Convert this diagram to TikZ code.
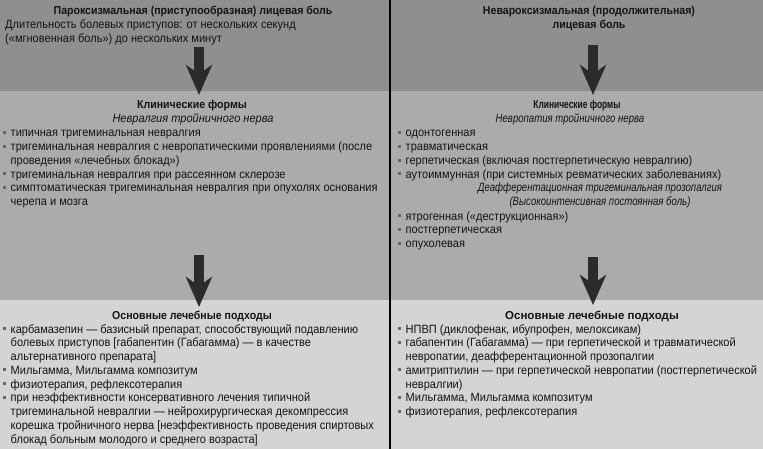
\documentclass[tikz,border=0pt]{standalone}
\usepackage{fontspec}
\setmainfont[FakeStretch=0.92]{Liberation Sans}
\newfontfamily\narrowA[FakeStretch=0.73]{Liberation Sans}
\newfontfamily\narrowB[FakeStretch=0.80]{Liberation Sans}
\newfontfamily\wideA[FakeStretch=1.0]{Liberation Sans}
\usetikzlibrary{arrows.meta,positioning}
\definecolor{bandA}{gray}{0.56}
\definecolor{bandB}{gray}{0.67}
\definecolor{bandC}{gray}{0.83}
\definecolor{ink}{gray}{0.08}
\definecolor{arrowgray}{gray}{0.17}
\newcommand{\bul}{\makebox[7.5pt][l]{\textcolor{ink!65}{\rule[2.8pt]{3pt}{3pt}}}}
\newcommand{\cont}{\hspace*{7.5pt}}

\begin{document}
\begin{tikzpicture}[x=1pt,y=-1pt,>=Stealth,
  band/.style={draw=none,inner sep=0,outer sep=0,anchor=north west,minimum width=763pt},
  txt/.style={anchor=base west,align=left,inner sep=0,font=\fontsize{12}{13.75}\selectfont,text=ink},
  head/.style={anchor=base,inner sep=0,font=\bfseries\fontsize{11.5}{14}\selectfont,text=ink},
  sub/.style={anchor=base,inner sep=0,font=\itshape\fontsize{12}{13.75}\selectfont,text=ink},
  flow/.style={-{Stealth[length=30pt,width=26pt,inset=9pt]},line width=10pt,draw=arrowgray}]
  \useasboundingbox (0,0) rectangle (763,449);
  % bands
  \node[band,fill=bandA,minimum height=91pt] (bandTop) at (0,0) {};
  \node[band,fill=bandB,minimum height=209pt] (bandMid) at (0,91) {};
  \node[band,fill=bandC,minimum height=149pt] (bandBot) at (0,300) {};
  \coordinate (divT) at (390,0);
  \coordinate (divB) at (390,449);
  \draw[line width=1.6pt,black] (divT) -- (divB);

  % arrows
  \coordinate (aL1) at (199,47);  \coordinate (bL1) at (199,95);
  \coordinate (aR1) at (593,45);  \coordinate (bR1) at (593,95);
  \coordinate (aL2) at (199,255); \coordinate (bL2) at (199,307);
  \coordinate (aR2) at (593,257); \coordinate (bR2) at (593,305);
  \draw[flow] (aL1) -- (bL1);
  \draw[flow] (aR1) -- (bR1);
  \draw[flow] (aL2) -- (bL2);
  \draw[flow] (aR2) -- (bR2);

  % left column (multi-line nodes sit on their last baseline)
  \node[head] (ttlL) at (193,15) {Пароксизмальная (приступообразная) лицевая боль};
  \node[txt] (durL) at (5,42.75) {Длительность болевых приступов: от нескольких секунд\\(«мгновенная боль») до нескольких минут};
  \node[head] (clinL) at (192,109) {Клинические формы};
  \node[sub] (nevrL) at (193,123) {Невралгия тройничного нерва};
  \node[txt] (formsL) at (3,205.75) {\bul типичная тригеминальная невралгия\\
    \bul тригеминальная невралгия с невропатическими проявлениями (после\\
    \cont проведения «лечебных блокад»)\\
    \bul тригеминальная невралгия при рассеянном склерозе\\
    \bul симптоматическая тригеминальная невралгия при опухолях основания\\
    \cont черепа и мозга};
  \node[head] (treatL) at (192,319) {Основные лечебные подходы};
  \node[txt] (therL) at (3,443) {\bul карбамазепин — базисный препарат, способствующий подавлению\\
    \cont болевых приступов [габапентин (Габагамма) — в качестве\\
    \cont альтернативного препарата]\\
    \bul Мильгамма, Мильгамма композитум\\
    \bul физиотерапия, рефлексотерапия\\
    \bul при неэффективности консервативного лечения типичной\\
    \cont тригеминальной невралгии — нейрохирургическая декомпрессия\\
    \cont корешка тройничного нерва [неэффективность проведения спиртовых\\
    \cont блокад больным молодого и среднего возраста]};

  % right column
  \node[head,align=center] (ttlR) at (589,29) {Невароксизмальная (продолжительная)\\лицевая боль};
  \node[head,font=\narrowA\bfseries\fontsize{11.5}{14}\selectfont] (clinR) at (577,109) {Клинические формы};
  \node[sub,font=\narrowB\itshape\fontsize{12}{13.75}\selectfont] (nevrR) at (570,122.5) {Невропатия тройничного нерва};
  \node[txt] (formsR) at (398,178.25) {\bul одонтогенная\\
    \bul травматическая\\
    \bul герпетическая (включая постгерпетическую невралгию)\\
    \bul аутоиммунная (при системных ревматических заболеваниях)};
  \node[sub,align=center,font=\narrowB\itshape\fontsize{12}{13.75}\selectfont] (deafR) at (600,205.75) {Деафферентационная тригеминальная прозопалгия\\(Высокоинтенсивная постоянная боль)};
  \node[txt] (formsR2) at (398,247.5) {\bul ятрогенная («деструкционная»)\\
    \bul постгерпетическая\\
    \bul опухолевая};
  \node[head,font=\wideA\bfseries\fontsize{11.5}{14}\selectfont] (treatR) at (592,319) {Основные лечебные подходы};
  \node[txt] (therR) at (398,415.5) {\bul НПВП (диклофенак, ибупрофен, мелоксикам)\\
    \bul габапентин (Габагамма) — при герпетической и травматической\\
    \cont невропатии, деафферентационной прозопалгии\\
    \bul амитриптилин — при герпетической невропатии (постгерпетической\\
    \cont невралгии)\\
    \bul Мильгамма, Мильгамма композитум\\
    \bul физиотерапия, рефлексотерапия};
\end{tikzpicture}
\end{document}
